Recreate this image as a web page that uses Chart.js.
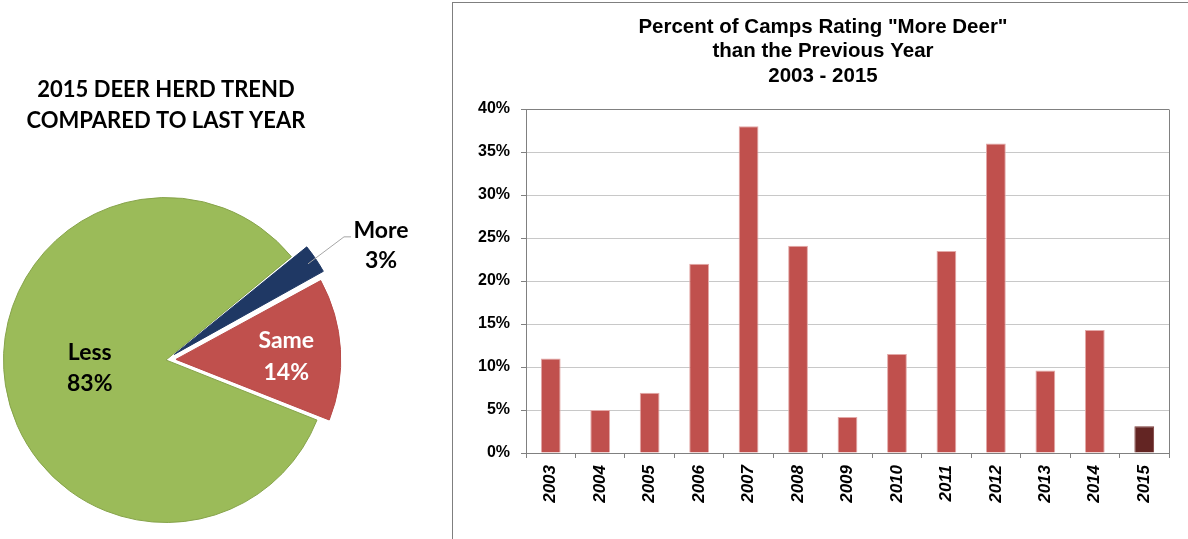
<!DOCTYPE html>
<html>
<head>
<meta charset="utf-8">
<script src="https://cdn.jsdelivr.net/npm/chart.js@4.4.1/dist/chart.umd.min.js"></script>
<style>
  html, body { margin: 0; padding: 0; background: #fff; }
  body { width: 1188px; height: 539px; overflow: hidden; position: relative; }
  #pieCanvas { position: absolute; left: -20px; top: 0px; }
  #barBox { position: absolute; left: 452px; top: 2px; width: 800px; height: 600px; border: 1px solid #7f7f7f; box-sizing: border-box; }
  #barCanvas { position: absolute; left: 453px; top: 3px; }
</style>
</head>
<body>
<div id="barBox"></div>
<canvas id="pieCanvas" width="462" height="560"></canvas>
<canvas id="barCanvas" width="735" height="536"></canvas>
<script>
// ---------- DATA ----------
const trendLabels = ['More', 'Same', 'Less'];
const trendPct = [3, 14, 83];
const pieTitle = ['2015 DEER HERD TREND', 'COMPARED TO LAST YEAR'];

const years = ['2003', '2004', '2005', '2006', '2007', '2008', '2009', '2010', '2011', '2012', '2013', '2014', '2015'];
const pctMoreDeer = [11.0, 5.0, 7.0, 22.0, 38.0, 24.1, 4.2, 11.5, 23.5, 36.0, 9.6, 14.3, 3.1];
const highlightYear = '2015';
const yTickValues = [0, 5, 10, 15, 20, 25, 30, 35, 40];
const barTitle = ['Percent of Camps Rating "More Deer"', 'than the Previous Year', '2003 - 2015'];

// ---------- STYLES ----------
const ARIAL = "'Liberation Sans', Arial, sans-serif";
const CALI = "Lato, 'Open Sans', sans-serif";
const sliceColors = { More: '#1F3864', Same: '#C0504D', Less: '#9BBB59' };
const sliceBorders = { More: '#1F3864', Same: '#B84A47', Less: '#86A34A' };
const sliceOffsets = { More: 40, Same: 40, Less: 0 };
const labelStyle = {
  Less: { frac: 0.475, dy: -4, color: '#000' },
  Same: { frac: 0.68, dy: 4, color: '#fff' },
  More: { outside: true, color: '#000' }
};

// ---------- PIE ----------
const pieLabelPlugin = {
  id: 'pieLabels',
  afterDatasetsDraw(chart) {
    const ctx = chart.ctx;
    const meta = chart.getDatasetMeta(0);
    ctx.save();
    ctx.font = 'bold 23px ' + CALI;
    ctx.textAlign = 'center';
    ctx.textBaseline = 'middle';
    meta.data.forEach((arc, i) => {
      const name = trendLabels[i];
      const st = labelStyle[name];
      const p = arc.getProps(['x', 'y', 'startAngle', 'endAngle', 'outerRadius'], true);
      const mid = (p.startAngle + p.endAngle) / 2;
      const t = (arc.options.offset || 0) / 4;
      const cx = p.x + Math.cos(mid) * t;
      const cy = p.y + Math.sin(mid) * t;
      const lines = [name, trendPct[i] + '%'];
      ctx.fillStyle = st.color;
      if (st.outside) {
        const ax = cx + Math.cos(mid) * (p.outerRadius - 1);
        const ay = cy + Math.sin(mid) * (p.outerRadius - 1);
        const ex = ax + 36, ey = ay - 27;
        ctx.strokeStyle = '#a6a6a6';
        ctx.lineWidth = 1;
        ctx.beginPath();
        ctx.moveTo(ax, ay);
        ctx.lineTo(ex, ey);
        ctx.lineTo(ex + 7, ey);
        ctx.stroke();
        const tx = ex + 37;
        ctx.fillText(lines[0], tx, ey - 6);
        ctx.fillText(lines[1], tx, ey + 24);
      } else {
        const r = p.outerRadius * st.frac;
        const lx = cx + Math.cos(mid) * r;
        const ly = cy + Math.sin(mid) * r + st.dy;
        ctx.fillText(lines[0], lx, ly - 15.8);
        ctx.fillText(lines[1], lx, ly + 15.8);
      }
    });
    ctx.restore();
  }
};

new Chart(document.getElementById('pieCanvas'), {
  type: 'pie',
  data: {
    labels: trendLabels,
    datasets: [{
      data: trendPct,
      backgroundColor: trendLabels.map(n => sliceColors[n]),
      borderColor: trendLabels.map(n => sliceBorders[n]),
      borderWidth: 1,
      offset: trendLabels.map(n => sliceOffsets[n]),
      hoverOffset: 0
    }]
  },
  options: {
    responsive: false,
    animation: false,
    rotation: 50.5,
    layout: { padding: { top: 0, bottom: 17, left: 0, right: 90 } },
    plugins: {
      legend: { display: false },
      tooltip: { enabled: false },
      title: {
        display: true,
        text: pieTitle,
        color: '#000',
        font: { family: CALI, size: 22, weight: 'bold', lineHeight: 31 / 22 },
        padding: { top: 74.5, bottom: 40.5 }
      }
    }
  },
  plugins: [pieLabelPlugin]
});

// ---------- BAR ----------
const plotBorderPlugin = {
  id: 'plotBorder',
  afterDraw(chart) {
    const a = chart.chartArea;
    const ctx = chart.ctx;
    ctx.save();
    ctx.strokeStyle = '#808080';
    ctx.lineWidth = 1;
    ctx.beginPath();
    ctx.moveTo(Math.round(a.right) + 0.5, Math.round(a.top) + 0.5);
    ctx.lineTo(Math.round(a.right) + 0.5, Math.round(a.bottom) + 5);
    ctx.stroke();
    ctx.restore();
  }
};

new Chart(document.getElementById('barCanvas'), {
  type: 'bar',
  data: {
    labels: years,
    datasets: [{
      data: pctMoreDeer,
      backgroundColor: years.map(y => y === highlightYear ? '#632523' : '#C0504D'),
      borderColor: years.map(y => y === highlightYear ? '#7a3a38' : '#E3A9A8'),
      borderWidth: 1,
      barPercentage: 0.4,
      categoryPercentage: 1.0
    }]
  },
  options: {
    responsive: false,
    animation: false,
    layout: { padding: { left: 24, right: 19, top: 0, bottom: 0 } },
    plugins: {
      legend: { display: false },
      tooltip: { enabled: false },
      title: {
        display: true,
        text: barTitle,
        color: '#000',
        font: { family: ARIAL, size: 20.5, weight: 'bold', lineHeight: 24.5 / 20.5 },
        padding: { top: 12, bottom: 20.5 }
      }
    },
    scales: {
      x: {
        grid: { display: true, drawOnChartArea: false, drawTicks: true, tickLength: 5, color: '#808080', offset: true },
        border: { display: true, color: '#808080', width: 1 },
        ticks: {
          color: '#000',
          font: { family: ARIAL, size: 17, weight: 'bold', style: 'italic' },
          minRotation: 90, maxRotation: 90, padding: 7, autoSkip: false
        },
        afterFit(scale) { scale.height = 86; }
      },
      y: {
        min: 0, max: 40,
        afterBuildTicks(scale) { scale.ticks = yTickValues.map(v => ({ value: v })); },
        grid: {
          color: c => (c.tick && c.tick.value === 40) ? '#808080' : '#C8C8C8',
          tickColor: '#808080', tickLength: 5, lineWidth: 1
        },
        border: { display: true, color: '#808080', width: 1 },
        ticks: {
          color: '#000',
          font: { family: ARIAL, size: 16, weight: 'bold' },
          padding: 11,
          callback: v => v + '%'
        },
        afterFit(scale) { scale.width = 49; }
      }
    }
  },
  plugins: [plotBorderPlugin]
});
</script>
</body>
</html>
